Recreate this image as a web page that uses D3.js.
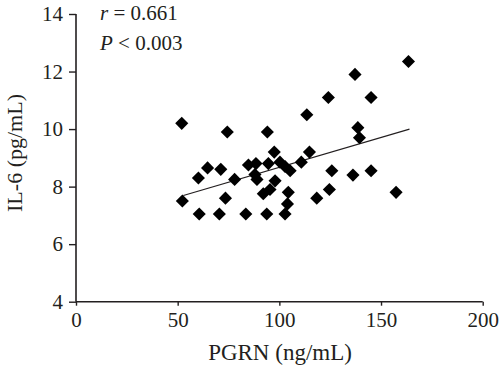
<!DOCTYPE html>
<html lang="en">
  <head>
    <meta charset="utf-8">
    <script src="https://d3js.org/d3.v7.min.js"></script>
    <title>PGRN vs IL-6</title>
    <style>
      body { margin: 0; background: #fff; }
      text { font-family: "Liberation Serif", "Times New Roman", serif; fill: #231f20; }
    </style>
  </head>
  <body>
    <script>
      // PGRN (ng/mL) vs IL-6 (pg/mL)
      var pgrn = [52, 52.3, 60.2, 60.6, 64.7, 71.2, 70.5, 73.5, 74.4, 78,
                  83.5, 84.8, 88.5, 88, 89, 92.1, 93.8, 94.1, 94.6, 95.4,
                  97.5, 97.9, 100.3, 102.8, 102.8, 104, 104.4, 105.3, 110.8, 113.5,
                  114.8, 118.4, 124.1, 124.6, 125.8, 136.2, 137.2, 138.6, 139.4, 145.1,
                  145.1, 157.4, 163.5];
      var il6  = [10.2, 7.5, 8.3, 7.05, 8.65, 8.6, 7.05, 7.6, 9.9, 8.25,
                  7.05, 8.75, 8.8, 8.42, 8.25, 7.75, 7.05, 9.9, 8.8, 7.9,
                  9.2, 8.2, 8.85, 8.7, 7.05, 7.4, 7.8, 8.55, 8.85, 10.5,
                  9.2, 7.6, 11.1, 7.9, 8.55, 8.4, 11.9, 10.05, 9.7, 11.1,
                  8.55, 7.8, 12.35];
      var fitX = [52.8, 164];
      var fitY = [7.69, 10.0];
      var xTicks = [0, 50, 100, 150, 200];
      var yTicks = [4, 6, 8, 10, 12, 14];
      var stats = ["r = 0.661", "P < 0.003"];

      var width = 500, height = 369;
      var svg = d3.select("body").append("svg")
        .attr("width", width)
        .attr("height", height);

      var x = d3.scaleLinear().domain([0, 200]).range([76, 482.7]);
      var y = d3.scaleLinear().domain([4, 14]).range([301.7, 14]);

      var xAxis = svg.append("g")
        .attr("transform", "translate(0," + y(4) + ")")
        .call(d3.axisBottom(x).tickValues(xTicks).tickSize(4).tickPadding(6).tickFormat(d3.format("d")));
      var yAxis = svg.append("g")
        .attr("transform", "translate(" + x(0) + ",0)")
        .call(d3.axisLeft(y).tickValues(yTicks).tickSize(7).tickPadding(6).tickFormat(d3.format("d")));

      [xAxis, yAxis].forEach(function (g) {
        g.attr("font-size", null).attr("font-family", null);
        g.select(".domain").attr("stroke", "#231f20").attr("stroke-width", 1.6);
        g.selectAll(".tick line").attr("stroke", "#231f20").attr("stroke-width", 1.4);
        g.selectAll(".tick text").style("font-size", "21px").attr("fill", "#231f20");
      });
      xAxis.selectAll(".domain").attr("d", "M" + x(0) + ",0H" + x(200));
      yAxis.selectAll(".domain").attr("d", "M0," + y(4) + "V" + y(14));

      // regression line
      svg.append("line")
        .attr("x1", x(fitX[0])).attr("y1", y(fitY[0]))
        .attr("x2", x(fitX[1])).attr("y2", y(fitY[1]))
        .attr("stroke", "#231f20")
        .attr("stroke-width", 1.2);

      var diamond = d3.symbol().type(d3.symbolSquare).size(86);
      svg.selectAll("path.pt")
        .data(d3.range(pgrn.length))
        .enter().append("path")
        .attr("class", "pt")
        .attr("d", diamond)
        .attr("transform", function (i) {
          return "translate(" + x(pgrn[i]) + "," + y(il6[i]) + ") rotate(45)";
        })
        .attr("fill", "#000");

      // stats text
      var s1 = svg.append("text").attr("x", 100).attr("y", 20).style("font-size", "21px");
      s1.append("tspan").style("font-style", "italic").text(stats[0].slice(0, 1));
      s1.append("tspan").text(stats[0].slice(1));
      var s2 = svg.append("text").attr("x", 100).attr("y", 50).style("font-size", "21px");
      s2.append("tspan").style("font-style", "italic").text(stats[1].slice(0, 1));
      s2.append("tspan").text(stats[1].slice(1));

      svg.append("text")
        .attr("x", 280).attr("y", 360)
        .attr("text-anchor", "middle")
        .style("font-size", "23px")
        .text("PGRN (ng/mL)");

      svg.append("text")
        .attr("transform", "translate(22,153) rotate(-90)")
        .attr("text-anchor", "middle")
        .style("font-size", "22px")
        .text("IL-6 (pg/mL)");
    </script>
  </body>
</html>
